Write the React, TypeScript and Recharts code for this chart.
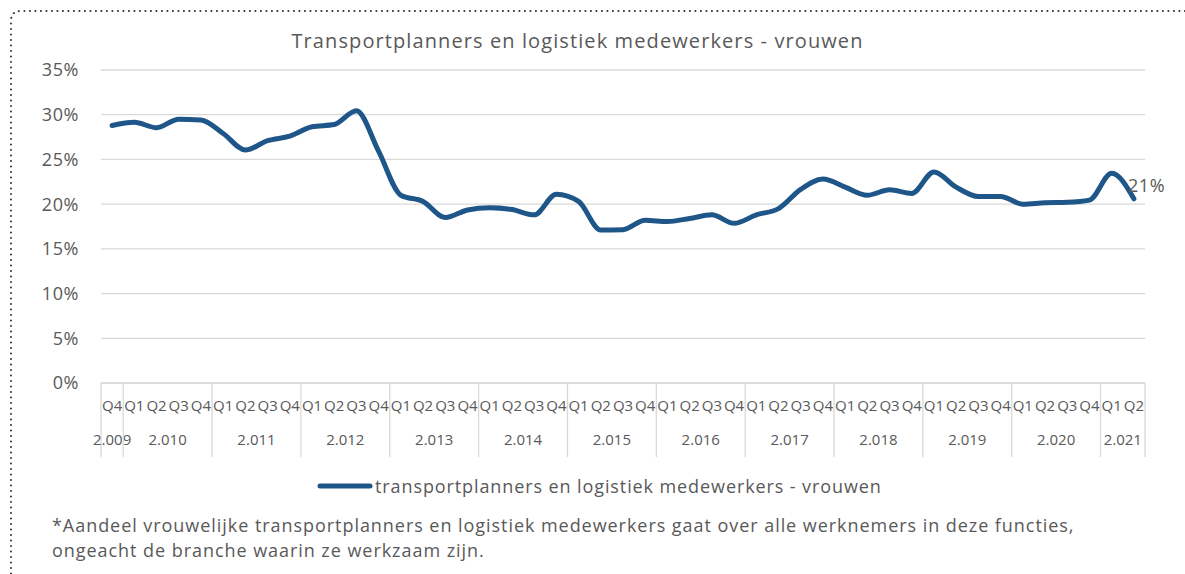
import { CartesianGrid, LabelList, Legend, Line, LineChart, XAxis, YAxis } from "recharts";

const quarters = [
  "Q4",
  "Q1", "Q2", "Q3", "Q4",
  "Q1", "Q2", "Q3", "Q4",
  "Q1", "Q2", "Q3", "Q4",
  "Q1", "Q2", "Q3", "Q4",
  "Q1", "Q2", "Q3", "Q4",
  "Q1", "Q2", "Q3", "Q4",
  "Q1", "Q2", "Q3", "Q4",
  "Q1", "Q2", "Q3", "Q4",
  "Q1", "Q2", "Q3", "Q4",
  "Q1", "Q2", "Q3", "Q4",
  "Q1", "Q2", "Q3", "Q4",
  "Q1", "Q2",
];

const years = [
  "2.009",
  "2.010", "2.010", "2.010", "2.010",
  "2.011", "2.011", "2.011", "2.011",
  "2.012", "2.012", "2.012", "2.012",
  "2.013", "2.013", "2.013", "2.013",
  "2.014", "2.014", "2.014", "2.014",
  "2.015", "2.015", "2.015", "2.015",
  "2.016", "2.016", "2.016", "2.016",
  "2.017", "2.017", "2.017", "2.017",
  "2.018", "2.018", "2.018", "2.018",
  "2.019", "2.019", "2.019", "2.019",
  "2.020", "2.020", "2.020", "2.020",
  "2.021", "2.021",
];

// aandeel vrouwen, in procenten
const share = [
  28.8,
  29.15, 28.55, 29.5, 29.4,
  27.9, 26.05, 27.1, 27.6,
  28.65, 28.9, 30.45, 25.9,
  21.0, 20.3, 18.5, 19.35,
  19.6, 19.4, 18.8, 21.1,
  20.3, 17.1, 17.15, 18.2,
  18.05, 18.4, 18.8, 17.85,
  18.8, 19.5, 21.65, 22.8,
  21.9, 21.0, 21.6, 21.2,
  23.6, 21.9, 20.85, 20.85,
  20.0, 20.15, 20.2, 20.45,
  23.45, 20.6,
];

const yTicks = [0, 5, 10, 15, 20, 25, 30, 35];

const SERIES_NAME = "transportplanners en logistiek medewerkers - vrouwen";
const TITLE = "Transportplanners en logistiek medewerkers - vrouwen";
const NOTE_1 =
  "*Aandeel vrouwelijke transportplanners en logistiek medewerkers gaat over alle werknemers in deze functies,";
const NOTE_2 = "ongeacht de branche waarin ze werkzaam zijn.";

const data = share.map((v, i) => ({ key: i, quarter: quarters[i], year: years[i], value: v }));

const W = 1185;
const H = 574;
const PLOT_LEFT = 101;
const PLOT_RIGHT = 1145;
const FONT = "'Open Sans', sans-serif";
const GREY = "#595959";
const GRID = "#d9d9d9";
const BLUE = "#1f5689";

function CategoryTick(props: any) {
  const { x, y, index } = props;
  const band = (PLOT_RIGHT - PLOT_LEFT) / data.length;
  const row = data[index];
  if (!row) return null;
  const first = index === 0 || data[index - 1].year !== row.year;
  const last = index === data.length - 1;
  const left = x - band / 2;
  const n = data.filter((d) => d.year === row.year).length;
  return (
    <g>
      <text x={x} y={y + 28} textAnchor="middle" fill={GREY} fontSize={15} fontFamily={FONT}>
        {row.quarter}
      </text>
      {first && <line x1={left} x2={left} y1={y} y2={y + 74} stroke={GRID} strokeWidth={1.3} />}
      {first && (
        <text x={left + (n * band) / 2} y={y + 62} textAnchor="middle" fill={GREY} fontSize={15} fontFamily={FONT}>
          {row.year}
        </text>
      )}
      {last && <line x1={x + band / 2} x2={x + band / 2} y1={y} y2={y + 74} stroke={GRID} strokeWidth={1.3} />}
    </g>
  );
}

function LastLabel(props: any) {
  const { x, y, index, value } = props;
  if (index !== data.length - 1) return null;
  return (
    <text x={x - 6} y={y - 7} fill={GREY} fontSize={18} letterSpacing={0.6} fontFamily={FONT}>
      {Math.round(value)}%
    </text>
  );
}

function LegendContent() {
  return (
    <div style={{ display: "flex", alignItems: "center", fontFamily: FONT, fontSize: 18, letterSpacing: 0.9, color: GREY }}>
      <svg width={58} height={8}>
        <line x1={3} x2={53} y1={4} y2={4} stroke={BLUE} strokeWidth={5} strokeLinecap="round" />
      </svg>
      <span>{SERIES_NAME}</span>
    </div>
  );
}

export default function App() {
  return (
    <div style={{ position: "absolute", left: 0, top: 0, width: W, height: H, background: "#fff", overflow: "hidden" }}>
      <svg width={W} height={H} style={{ position: "absolute", left: 0, top: 0 }}>
        <path
          d={`M 11 ${H + 5} L 11 21 Q 11 11 21 11 L ${W + 5} 11`}
          fill="none"
          stroke="#333"
          strokeWidth={2}
          strokeDasharray="0.1 5.4"
          strokeLinecap="round"
        />
      </svg>
      <div
        style={{
          position: "absolute",
          left: 0,
          width: W - 30,
          top: 27,
          textAlign: "center",
          fontFamily: FONT,
          fontSize: 20,
          letterSpacing: 1.1,
          color: GREY,
        }}
      >
        {TITLE}
      </div>
      <div style={{ position: "absolute", left: 0, top: 0 }}>
        <LineChart width={W} height={H} data={data} margin={{ top: 70, right: W - PLOT_RIGHT, bottom: 111, left: 8 }}>
          <CartesianGrid vertical={false} stroke={GRID} strokeWidth={1.3} />
          <XAxis
            dataKey="key"
            type="category"
            scale="band"
            interval={0}
            height={80}
            axisLine={{ stroke: GRID, strokeWidth: 1.3 }}
            tickLine={false}
            tickSize={0}
            tickMargin={0}
            tick={<CategoryTick />}
          />
          <YAxis
            type="number"
            domain={[0, 35]}
            ticks={yTicks}
            width={93}
            axisLine={false}
            tickLine={false}
            tickMargin={16}
            tickFormatter={(v) => `${v}%`}
            tick={{ fill: GREY, fontSize: 18, fontFamily: FONT, letterSpacing: 0.6 }}
          />
          <Legend
            layout="horizontal"
            verticalAlign="middle"
            align="center"
            wrapperStyle={{ top: 474, left: 317, width: "auto" }}
            content={<LegendContent />}
          />
          <Line
            type="monotone"
            dataKey="value"
            name={SERIES_NAME}
            stroke={BLUE}
            strokeWidth={5}
            strokeLinecap="round"
            dot={false}
            activeDot={false}
            isAnimationActive={false}
          >
            <LabelList dataKey="value" content={<LastLabel />} />
          </Line>
        </LineChart>
      </div>
      <div
        style={{
          position: "absolute",
          left: 52,
          top: 513,
          fontFamily: FONT,
          fontSize: 18,
          letterSpacing: 0.95,
          lineHeight: "25px",
          color: GREY,
        }}
      >
        <div>{NOTE_1}</div>
        <div>{NOTE_2}</div>
      </div>
    </div>
  );
}
